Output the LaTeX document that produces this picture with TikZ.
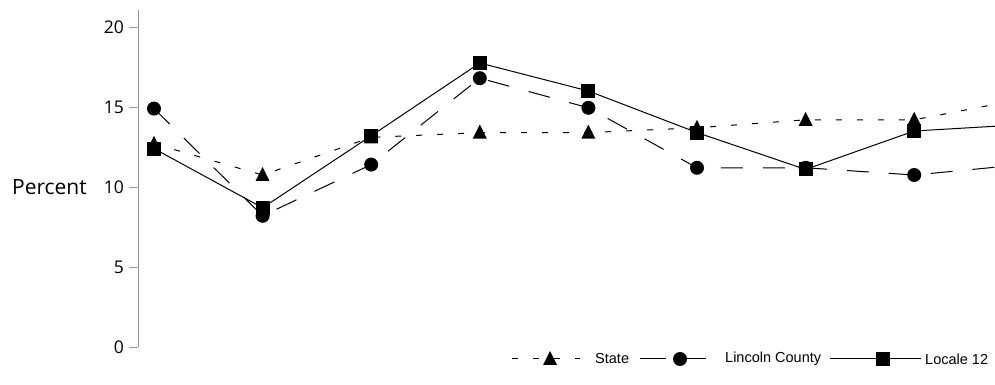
\documentclass[tikz,border=0pt]{standalone}
\usepackage{fontspec}
\setmainfont{Open Sans}
\newfontfamily\legendfont{Liberation Sans}
\usetikzlibrary{positioning}
\definecolor{axisgray}{RGB}{150,150,150}

\tikzset{
  ticklabel/.style={anchor=east, inner sep=0pt, font=\fontsize{17.5}{20}\selectfont},
  axislabel/.style={anchor=east, inner sep=0pt, font=\fontsize{21}{24}\selectfont},
  legendlabel/.style={anchor=west, inner sep=0pt, font=\legendfont\fontsize{14.5}{16}\selectfont},
  statedash/.style={line width=1pt, dash pattern=on 6pt off 15pt},
  countydash/.style={line width=1pt, dash pattern=on 22pt off 20pt},
  localeline/.style={line width=1pt}
}

\begin{document}
\begin{tikzpicture}[x=1pt,y=1pt]
    \useasboundingbox (0,0) rectangle (995,385);
    \clip (0,0) rectangle (995,385);

    % y axis
    \draw[axisgray] (138,38) -- (138,375);
    \foreach \v in {0,5,...,20} {
        \draw[axisgray] (129,38+16*\v) -- (138,38+16*\v);
        \node[ticklabel] (tick\v) at (124,38+16*\v) {\v};
    }
    \node[axislabel] (ylabel) at (87,198) {Percent};

    % data, one unit per year step and per percent
    \begin{scope}[shift={(45.4,38)}, x=108.6pt, y=16pt]
        \draw[statedash] (1,12.7) -- (2,10.75) -- (3,13.1) -- (4,13.4) -- (5,13.4)
            -- (6,13.7) -- (7,14.2) -- (8,14.2) -- (9,15.5);
        \foreach \x/\y in {1/12.7, 2/10.75, 3/13.1, 4/13.4, 5/13.4, 6/13.7, 7/14.2, 8/14.2}
            \fill[shift={(\x,\y)}] (0pt,8pt) -- (-7pt,-6pt) -- (7pt,-6pt) -- cycle;

        \draw[countydash] (1,14.9) -- (2,8.2) -- (3,11.4) -- (4,16.8) -- (5,14.95)
            -- (6,11.2) -- (7,11.2) -- (8,10.75) -- (9,11.4);
        \foreach \x/\y in {1/14.9, 2/8.2, 3/11.4, 4/16.8, 5/14.95, 6/11.2, 7/11.2, 8/10.75}
            \fill (\x,\y) circle (7pt);

        \draw[localeline] (1,12.4) -- (2,8.7) -- (3,13.2) -- (4,17.75) -- (5,16.0)
            -- (6,13.4) -- (7,11.1) -- (8,13.5) -- (9,13.9);
        \foreach \x/\y in {1/12.4, 2/8.7, 3/13.2, 4/17.75, 5/16.0, 6/13.4, 7/11.1, 8/13.5}
            \fill (\x,\y) ++(-7pt,-7pt) rectangle ++(14pt,14pt);
    \end{scope}

    % legend
    \coordinate (statea) at (512,26);
    \coordinate (stateb) at (580,26);
    \draw[statedash] (statea) -- (stateb);
    \fill[shift={(550,26)}] (0pt,8pt) -- (-7pt,-6pt) -- (7pt,-6pt) -- cycle;
    \node[legendlabel] (statelabel) at (595,26) {State};

    \coordinate (countya) at (640,26);
    \coordinate (countyb) at (707,26);
    \draw[countydash, dash pattern=on 26pt off 14pt] (countya) -- (countyb);
    \fill (680,26) circle (7pt);
    \node[legendlabel] (countylabel) at (725,26) {Lincoln County};

    \coordinate (localea) at (830,26);
    \coordinate (localeb) at (921,26);
    \draw[localeline] (localea) -- (localeb);
    \fill (883,26) ++(-7pt,-7pt) rectangle ++(14pt,14pt);
    \node[legendlabel] (localelabel) at (925,26) {Locale 12};
\end{tikzpicture}
\end{document}
